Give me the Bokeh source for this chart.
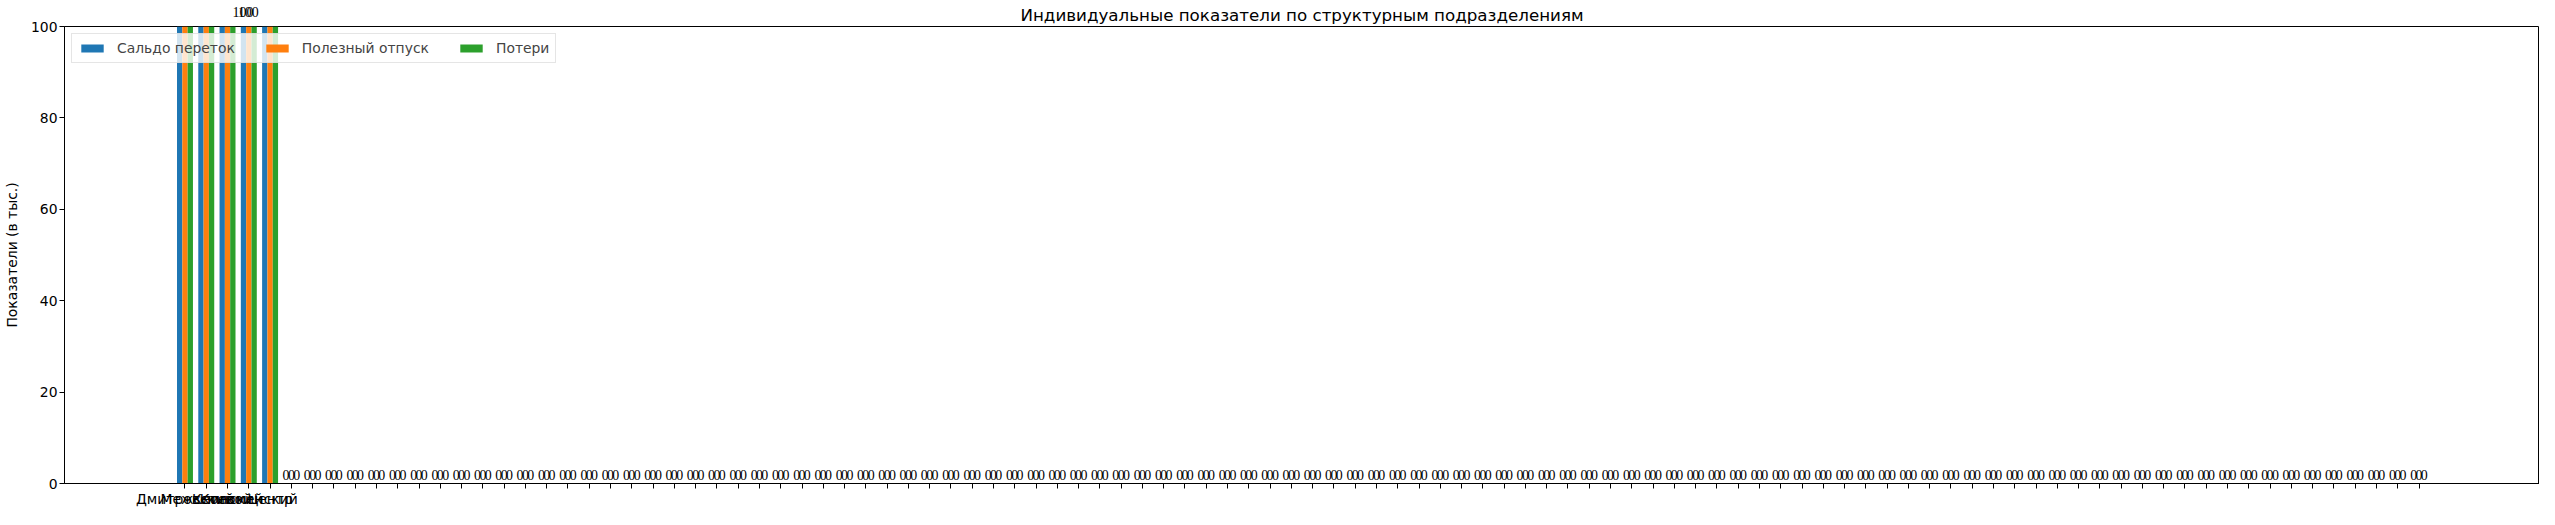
from bokeh.plotting import figure
from bokeh.models import (ColumnDataSource, LabelSet, HTMLLabelSet, Range1d, FixedTicker,
                          Legend, LegendItem)
from bokeh.embed import file_html
from bokeh.resources import INLINE

# ---- data ----
named_units = ["Дмитровский", "Межсетевой", "Клинский", "Коломенский", "Центр"]
extra_units = [""] * 101
units = named_units + extra_units

saldo = [412.6, 356.2, 298.4, 100, 387.1] + [0] * 101
useful = [389.3, 331.8, 276.9, 100, 361.5] + [0] * 101
losses = [123.3, 124.4, 121.5, 110.7, 125.6] + [0] * 101

series_names = ["Сальдо переток", "Полезный отпуск", "Потери"]
series_colors = ["#1f77b4", "#ff7f0e", "#2ca02c"]
y_ticks = [0, 20, 40, 60, 80, 100]
y_max = 100

FONT = "DejaVu Sans"
FS = "13.9px"

idx = list(range(len(units)))
n = len(units)
width = 0.25
pad = 0.05 * ((n - 1) + 3 * width)

p = figure(width=2539, height=509, output_backend="svg", toolbar_location=None,
           x_range=Range1d(-1.5 * width - pad, (n - 1) + 1.5 * width + pad),
           y_range=Range1d(0, y_max),
           title="Индивидуальные показатели по структурным подразделениям",
           min_border_left=50, min_border_right=0, min_border_top=6, min_border_bottom=0)

p.title.text_font = FONT
p.title.text_font_size = "16.7px"
p.title.text_font_style = "normal"
p.title.text_color = "black"
p.title.align = "center"
p.title.standoff = 4

p.xgrid.visible = False
p.ygrid.visible = False
p.outline_line_color = "black"
p.outline_line_width = 1

for ax in (p.xaxis[0], p.yaxis[0]):
    ax.major_label_text_font = FONT
    ax.major_label_text_font_size = FS
    ax.major_label_text_color = "black"
    ax.major_label_text_line_height = 1.0
    ax.axis_line_color = "black"
    ax.major_tick_line_color = "black"
    ax.major_tick_out = 5
    ax.major_tick_in = 0
    ax.minor_tick_line_color = None
    ax.axis_label_text_font = FONT
    ax.axis_label_text_font_size = FS
    ax.axis_label_text_font_style = "normal"
    ax.axis_label_text_color = "black"
    ax.major_label_standoff = 2

p.xaxis.axis_label_standoff = 0
p.xaxis.ticker = FixedTicker(ticks=idx)
p.xaxis.major_label_overrides = {i: u for i, u in enumerate(units)}
p.yaxis.ticker = FixedTicker(ticks=y_ticks)
p.yaxis.axis_label = "Показатели (в тыс.)"
p.yaxis.axis_label_standoff = 8

offsets = [-width, 0.0, width]
series = [saldo, useful, losses]
items = []
for name, vals, color, off in zip(series_names, series, series_colors, offsets):
    bsrc = ColumnDataSource(dict(x=[i + off for i in idx], top=vals))
    r = p.vbar(x="x", top="top", width=width, source=bsrc,
               fill_color=color, line_color=None)
    items.append(LegendItem(label=name, renderers=[r]))
    # value labels only for bars whose end lies within the visible range
    low = [i for i, v in enumerate(vals) if v < y_max]
    top = [i for i, v in enumerate(vals) if v == y_max]
    lsrc = ColumnDataSource(dict(x=[idx[i] + off for i in low],
                                 y=[vals[i] for i in low],
                                 t=["%g" % vals[i] for i in low]))
    p.add_layout(LabelSet(x="x", y="y", text="t", source=lsrc,
                          text_align="center", text_baseline="bottom", y_offset=4,
                          text_font=FONT, text_font_size=FS, text_color="black"))
    if top:
        tsrc = ColumnDataSource(dict(x=[idx[i] + off for i in top],
                                     y=[vals[i] for i in top],
                                     t=["%g" % vals[i] for i in top]))
        p.add_layout(HTMLLabelSet(x="x", y="y", text="t", source=tsrc,
                                  text_align="center", text_baseline="bottom", y_offset=5,
                                  text_font=FONT, text_font_size=FS, text_color="black"))

legend = Legend(items=items, location="top_left", orientation="horizontal",
                label_text_font=FONT, label_text_font_size=FS,
                glyph_width=28, glyph_height=10, label_standoff=11,
                spacing=28, padding=6, margin=7,
                border_line_color="#cccccc", border_line_width=1,
                background_fill_color="white", background_fill_alpha=0.8)
p.add_layout(legend)

open("out.html", "w").write(file_html(p, INLINE))
